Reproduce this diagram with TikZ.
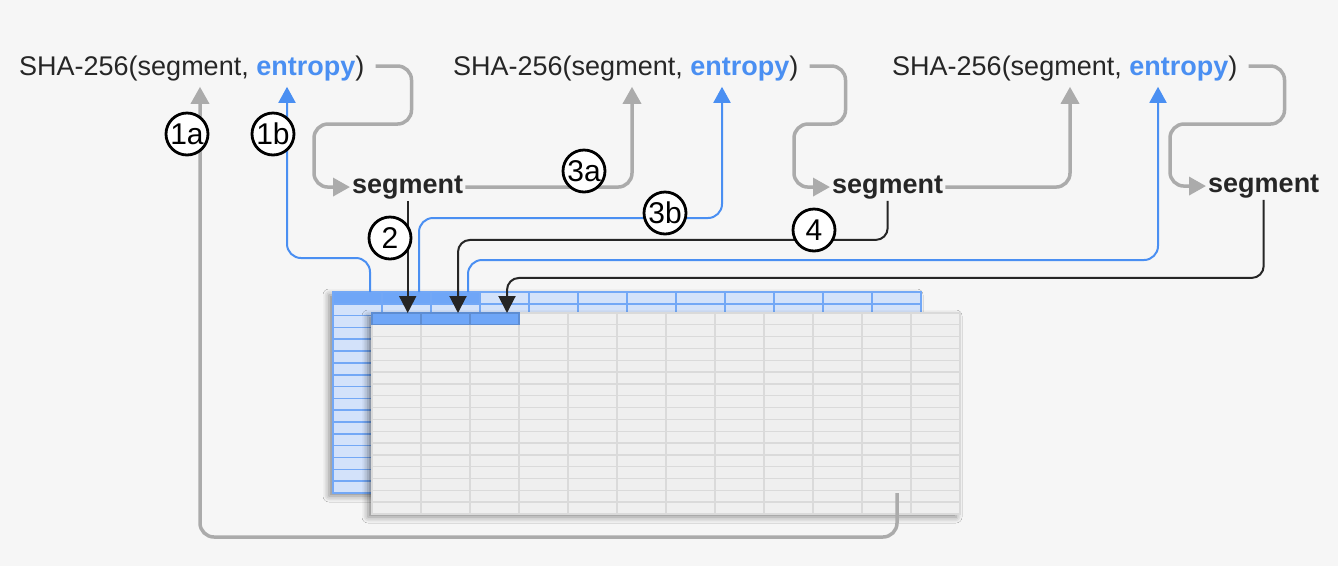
\documentclass[tikz,border=0pt]{standalone}
\usepackage{fontspec}
\setmainfont{Liberation Sans}
\usepackage{tikz}
\usetikzlibrary{positioning,arrows.meta,shadows.blur}
\usepackage{xcolor}
\definecolor{cbg}{HTML}{F6F6F6}
\definecolor{cink}{HTML}{262626}
\definecolor{cent}{HTML}{4A8FF2}
\definecolor{cgray}{HTML}{ABABAB}
\definecolor{cblue}{HTML}{4A8FF2}
\definecolor{cbfill}{HTML}{D3E2FA}
\definecolor{cbgrid}{HTML}{73A8F6}
\definecolor{cbhead}{HTML}{6FA6F7}
\definecolor{cgfill}{HTML}{EFEFEF}
\definecolor{cggrid}{HTML}{DADADA}

\begin{document}
\begin{tikzpicture}[x=1pt, y=-1pt,
  hash/.style={anchor=base west, inner sep=2pt, text=cink, font=\fontsize{27}{30}\selectfont},
  seg/.style={anchor=base west, inner sep=2pt, text=cink, font=\fontsize{27}{30}\selectfont\bfseries},
  num/.style={circle, draw=black, line width=2.8pt, fill=white, minimum size=42pt, inner sep=0pt, font=\fontsize{30}{30}\selectfont},
  tbl/.style={anchor=north west, minimum width=588pt, minimum height=201pt, inner sep=0pt, outer sep=0pt,
    blur shadow={shadow xshift=-4pt, shadow yshift=-3pt, shadow blur radius=6pt, shadow opacity=45}},
  garr/.style={-{Triangle[length=17pt, width=18pt]}, color=cgray, line width=3.5pt, rounded corners=14pt},
  barr/.style={-{Triangle[length=16pt, width=17pt]}, color=cblue, line width=2pt, rounded corners=14pt},
  karr/.style={-{Triangle[length=17pt, width=17pt]}, color=cink, line width=2pt, rounded corners=12pt}]
\fill[cbg] (0,0) rectangle (1338,566);
\useasboundingbox (0,0) rectangle (1338,566);

% hash calls and segments
\node[hash] (h1) at (17,75) {SHA-256(segment, \textcolor{cent}{\bfseries entropy})};
\node[hash] (h2) at (451,75) {SHA-256(segment, \textcolor{cent}{\bfseries entropy})};
\node[hash] (h3) at (890,75) {SHA-256(segment, \textcolor{cent}{\bfseries entropy})};
\node[seg] (s1) at (350,193) {segment};
\node[seg] (s2) at (830,193) {segment};
\node[seg] (s3) at (1206,192) {segment};

% back table (entropy)
\node[tbl, fill=cbfill] (back) at (333,292) {};
\fill[cbhead] (back.north west) rectangle ([xshift=147pt, yshift=-11.8pt]back.north west);
\foreach \c in {1,...,11}
  \draw[cbgrid, line width=1.6pt] ([xshift=\c*49pt]back.north west) -- ([xshift=\c*49pt]back.south west);
\foreach \r in {1,...,16}
  \draw[cbgrid, line width=1.6pt] ([yshift=-\r*11.82pt]back.north west) -- ([yshift=-\r*11.82pt]back.north east);
\draw[cbgrid, line width=1.6pt] (back.north west) rectangle (back.south east);

% front table (segments)
\node[tbl, fill=cgfill] (front) at (372,313) {};
\foreach \c in {1,...,11}
  \draw[cggrid, line width=1.3pt] ([xshift=\c*49pt]front.north west) -- ([xshift=\c*49pt]front.south west);
\foreach \r in {1,...,16}
  \draw[cggrid, line width=1.3pt] ([yshift=-\r*11.82pt]front.north west) -- ([yshift=-\r*11.82pt]front.north east);
\draw[cggrid, line width=1.3pt] (front.north west) rectangle (front.south east);
\foreach \c in {0,1,2}
  \draw[cbhead!85!black, fill=cbhead, line width=1.2pt] ([xshift=\c*49pt]front.north west) rectangle ([xshift=\c*49pt+49pt, yshift=-11.8pt]front.north west);

% hash output feeds the next segment
\draw[garr] ([xshift=9pt, yshift=2pt]h1.east) -| ++(36,58) -| ([xshift=-36pt]s1.west) -- (s1.west);
\draw[garr] ([xshift=9pt, yshift=2pt]h2.east) -| ++(36,58) -| ([xshift=-36pt]s2.west) -- (s2.west);
\draw[garr] ([xshift=9pt, yshift=2pt]h3.east) -| ++(36,58) -| ([xshift=-36pt]s3.west) -- (s3.west);

\draw[garr] ([xshift=525pt, yshift=21pt]front.south west) -- ++(0,44) -| ([xshift=183pt, yshift=-4pt]h1.south west);
\draw[garr] (s1.east) -| ([xshift=181pt, yshift=-4pt]h2.south west);
\draw[garr] (s2.east) -| ([xshift=180pt, yshift=-4pt]h3.south west);

\draw[barr] ([xshift=37pt]back.north west) -- ++(0,-34) -| ([xshift=270pt, yshift=-4pt]h1.south west);
\draw[barr] ([xshift=86pt]back.north west) -- ++(0,-74) -| ([xshift=271pt, yshift=-4pt]h2.south west);
\draw[barr] ([xshift=135pt]back.north west) -- ++(0,-32) -| ([xshift=268pt, yshift=-4pt]h3.south west);

\draw[karr] (s1.south) -- (s1.south |- front.north);
\draw[karr] (s2.south) -- ++(0,39) -| ([xshift=86pt]front.north west);
\draw[karr] (s3.south) -- ++(0,78) -| ([xshift=135pt]front.north west);

% step numbers
\node[num] (n1a) at (187,134) {1a};
\node[num] (n1b) at (273,134) {1b};
\node[num] (n2) at (390,238) {2};
\node[num] (n3a) at (584,171) {3a};
\node[num] (n3b) at (665,213) {3b};
\node[num] (n4) at (814,230) {4};
\end{tikzpicture}
\end{document}
